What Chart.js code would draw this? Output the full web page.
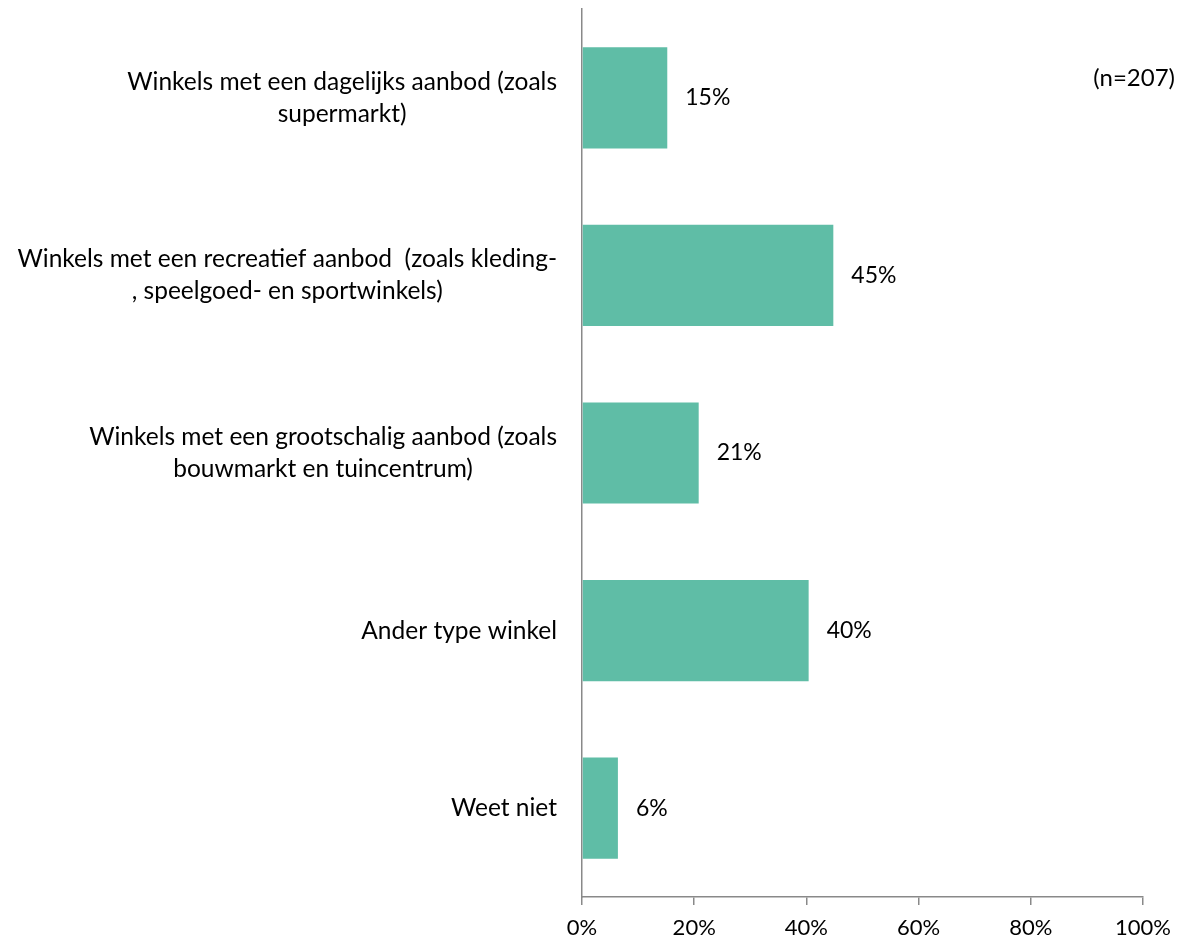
<!DOCTYPE html>
<html>
<head>
<meta charset="utf-8">
<script src="https://cdn.jsdelivr.net/npm/chart.js@4"></script>
<style>
  body { margin: 0; background: #fff; }
  #wrap { width: 1183px; height: 945px; }
</style>
</head>
<body>
<div id="wrap"><canvas id="myChart"></canvas></div>
<script>

var categories = [
    ['Winkels met een dagelijks aanbod (zoals', 'supermarkt)'],
    ['Winkels met een recreatief aanbod  (zoals kleding-', ', speelgoed- en sportwinkels)'],
    ['Winkels met een grootschalig aanbod (zoals', 'bouwmarkt en tuincentrum)'],
    ['Ander type winkel'],
    ['Weet niet']
];
var values = [15.2, 44.8, 20.8, 40.4, 6.4];
var valueLabels = ['15%', '45%', '21%', '40%', '6%'];
var xTicks = [0, 20, 40, 60, 80, 100];
var note = '(n=207)';

var FONT = 'Lato, "Noto Sans", sans-serif';

// y labels: each block right aligned against the axis, lines centered inside it
var labelPlugin = {
    id: 'labels',
    afterDraw: function (chart) {
        var ctx = chart.ctx;
        var y = chart.scales.y;
        var left = chart.chartArea.left;
        ctx.save();
        ctx.fillStyle = '#000';
        ctx.font = '24.5px ' + FONT;
        ctx.textBaseline = 'middle';
        ctx.textAlign = 'center';
        var lh = 32;
        for (var i = 0; i < categories.length; i++) {
            var lines = categories[i];
            var widest = 0;
            lines.forEach(function (l) { widest = Math.max(widest, ctx.measureText(l).width); });
            var cx = left - 25 - widest / 2;
            var cy = y.getPixelForTick(i);
            var top = cy - (lines.length - 1) * lh / 2;
            for (var j = 0; j < lines.length; j++) {
                ctx.fillText(lines[j], cx, top + j * lh);
            }
        }
        // value labels
        ctx.font = '23px ' + FONT;
        ctx.textAlign = 'left';
        var meta = chart.getDatasetMeta(0);
        meta.data.forEach(function (bar, i) {
            ctx.fillText(valueLabels[i], bar.x + 18, bar.y);
        });
        // note
        ctx.font = '24px ' + FONT;
        ctx.textAlign = 'right';
        ctx.fillText(note, 1175, 78);
        ctx.restore();
    }
};

var ctx = document.getElementById('myChart').getContext('2d');
var myChart = new Chart(ctx, {
    type: 'bar',
    data: {
        labels: categories.map(function (c) { return c.join(' '); }),
        datasets: [{
            data: values,
            backgroundColor: '#5fbda6',
            categoryPercentage: 1,
            barPercentage: 0.57
        }]
    },
    options: {
        indexAxis: 'y',
        responsive: true,
        maintainAspectRatio: false,
        animation: false,
        layout: { padding: { top: 9, right: 40, bottom: 0 } },
        plugins: { legend: { display: false }, tooltip: { enabled: false } },
        scales: {
            x: {
                min: 0,
                max: 100,
                afterBuildTicks: function (scale) {
                    scale.ticks = xTicks.map(function (v) { return { value: v }; });
                },
                afterFit: function (scale) { scale.height = 48; },
                grid: { drawOnChartArea: false, drawTicks: true, tickLength: 8, color: '#898989', lineWidth: 1.5 },
                border: { color: '#898989', width: 1.5 },
                ticks: {
                    color: '#000',
                    padding: 10,
                    maxRotation: 0,
                    font: { family: FONT, size: 22 },
                    callback: function (v) { return v + '%'; }
                }
            },
            y: {
                afterFit: function (scale) { scale.width = 582; },
                grid: { display: false },
                border: { color: '#898989', width: 1.5 },
                ticks: { display: false }
            }
        }
    },
    plugins: [labelPlugin]
});
</script>
</body>
</html>
